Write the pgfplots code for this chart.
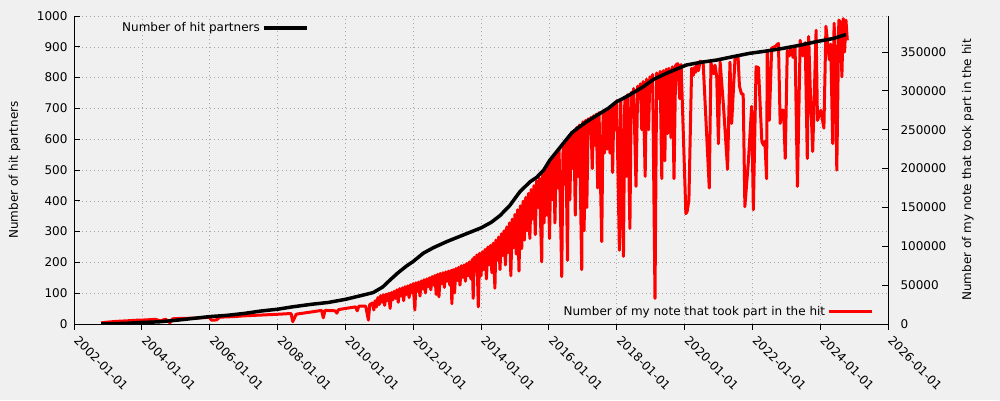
\documentclass[border=0pt]{standalone}
\usepackage{fontspec}
\setmainfont{DejaVu Sans}
\usepackage{pgfplots}
\pgfplotsset{compat=1.18}
\definecolor{bg}{HTML}{F0F0F0}
\definecolor{gridc}{HTML}{A8A8A8}

\pgfplotsset{
  base/.style={
    scale only axis, width=814pt, height=308pt,
    at={(74pt,76pt)}, anchor=south west,
    xmin=2002, xmax=2026,
    /pgf/number format/assume math mode=true,
    /pgf/number format/1000 sep={},
    axis line style={line width=0.9pt},
    major tick length=6pt, minor tick length=3pt,
    tick style={black, line width=0.8pt},
  },
  lgd/.style={
    legend style={draw=none, fill=none, inner sep=0pt, font=\fontsize{12}{14}\selectfont},
    legend plot pos=right,
    legend image code/.code={\path (0pt,0pt) -- (43pt,0pt);\draw[##1] (7pt,0pt) -- (43pt,0pt);},
  },
}

\begin{document}
\begin{tikzpicture}[font=\fontsize{12}{14}\selectfont]
\fill[bg] (0,0) rectangle (1000pt,400pt);

% left axis, dates and grid
\begin{axis}[base,
    axis x line*=bottom, axis y line*=left,
    ymin=0, ymax=1000, ytick={0,100,...,1000},
    xtick={2002,2004,...,2026},
    xticklabels={2002-01-01,2004-01-01,2006-01-01,2008-01-01,2010-01-01,
      2012-01-01,2014-01-01,2016-01-01,2018-01-01,2020-01-01,2022-01-01,
      2024-01-01,2026-01-01},
    minor x tick num=11,
    xtick align=outside, ytick align=inside,
    grid=major,
    major grid style={gridc, line width=0.6pt, dash pattern=on 1pt off 3pt},
    xticklabel style={yshift=-6pt, rotate=-45, anchor=west},
    yticklabel style={xshift=-3pt},
    ylabel={Number of hit partners},
    ylabel style={at={(axis description cs:-0.073,0.5)}, anchor=center},
  ]
\end{axis}

% right axis: notes
\begin{axis}[base, lgd,
    axis x line=none, axis y line*=right,
    ymin=0, ymax=396300, ytick={0,50000,...,350000},
    ytick align=inside,
    scaled y ticks=false,
    yticklabel style={xshift=9pt, /pgf/number format/fixed},
    ylabel={Number of my note that took part in the hit},
    ylabel style={at={(axis description cs:1.098,0.5)}, anchor=center, rotate=0},
    legend style={at={(0.982,0.039)}, anchor=east},
  ]
\addplot[red, line width=3pt, line join=round] coordinates {
(2002.80,1500)(2003.00,2500)(2003.30,3500)(2003.60,4200)(2003.90,5000)
(2004.10,5200)(2004.40,6000)(2004.55,4000)(2004.70,6200)(2004.83,1500)
(2004.90,6600)(2005.00,7000)(2005.50,7500)(2006.00,8600)(2006.05,5000)
(2006.20,5200)(2006.30,8800)(2006.70,9500)(2007.00,10500)(2007.50,11500)
(2008.00,12500)(2008.40,13500)(2008.45,3000)(2008.55,12500)(2008.60,13000)
(2009.00,15500)(2009.30,17500)(2009.35,8000)(2009.40,17500)(2009.70,17000)
(2009.75,14000)(2009.80,18500)(2010.00,20000)(2010.30,22000)(2010.35,17000)
(2010.40,23000)(2010.60,23000)(2010.68,5000)(2010.72,25000)
(2010.80,27000)(2010.84,18000)(2010.88,30000)(2010.92,22000)(2010.96,34000)
(2011.00,25000)(2011.04,36500)(2011.08,28000)(2011.12,37500)(2011.16,24000)
(2011.20,38500)(2011.24,30000)(2011.28,39500)(2011.32,20000)(2011.36,40500)
(2011.40,31000)(2011.44,42000)(2011.48,33000)(2011.52,44000)(2011.56,28000)
(2011.60,45500)(2011.64,36000)(2011.68,46500)(2011.72,30000)(2011.76,48000)
(2011.80,38000)(2011.84,49000)(2011.88,34000)(2011.92,50500)(2011.96,40000)
(2012.00,52000)(2012.05,18000)(2012.08,53000)(2012.12,42000)(2012.16,54000)
(2012.20,36000)(2012.24,55500)(2012.28,45000)(2012.32,57000)(2012.36,40000)
(2012.40,58000)(2012.44,48000)(2012.48,59500)(2012.52,44000)(2012.56,61000)
(2012.60,50000)(2012.64,62500)(2012.68,38000)(2012.72,64000)(2012.76,35000)
(2012.80,65000)(2012.84,52000)(2012.88,66000)(2012.92,47000)(2012.96,67000)
(2013.00,55000)(2013.04,68000)(2013.08,50000)(2013.12,69000)(2013.14,26000)
(2013.18,70000)(2013.22,40000)(2013.26,71500)(2013.30,56000)(2013.34,73000)
(2013.38,50000)(2013.42,75000)(2013.46,60000)(2013.50,76000)(2013.54,55000)
(2013.58,78000)(2013.62,62000)(2013.66,80000)(2013.70,58000)(2013.74,83000)
(2013.77,33000)(2013.80,86000)(2013.84,68000)(2013.88,89000)(2013.92,22000)
(2013.96,91000)(2014.00,62000)(2014.04,93000)(2014.08,70000)(2014.12,96000)
(2014.16,58000)(2014.20,99000)(2014.24,76000)(2014.28,101000)(2014.32,66000)
(2014.36,104000)(2014.41,46000)(2014.44,108000)(2014.48,82000)(2014.52,112000)
(2014.56,70000)(2014.60,116000)(2014.64,88000)(2014.68,120000)(2014.72,76000)
(2014.76,125000)(2014.80,92000)(2014.84,130000)(2014.88,62000)(2014.92,135000)
(2014.96,98000)(2015.00,141000)(2015.04,90000)(2015.08,147000)(2015.12,68000)
(2015.16,152000)(2015.20,97000)(2015.24,158000)(2015.28,108000)(2015.32,163000)
(2015.36,120000)(2015.40,168000)(2015.44,110000)(2015.48,173000)(2015.52,135000)
(2015.56,178000)(2015.60,115000)(2015.64,184000)(2015.68,150000)(2015.72,188000)
(2015.79,80000)(2015.82,193000)(2015.86,130000)(2015.90,198000)(2015.94,140000)
(2015.98,205000)(2016.02,110000)(2016.06,210000)(2016.10,160000)(2016.14,215000)
(2016.18,130000)(2016.22,220000)(2016.26,175000)(2016.30,225000)(2016.34,150000)
(2016.38,61000)(2016.42,231000)(2016.46,180000)(2016.50,236000)(2016.55,82000)
(2016.58,240000)(2016.62,160000)(2016.66,245000)(2016.70,200000)(2016.74,249000)
(2016.78,140000)(2016.82,253000)(2016.86,190000)(2016.90,256000)(2016.97,70000)
(2017.00,260000)(2017.04,120000)(2017.08,262000)(2017.12,150000)(2017.16,264000)
(2017.20,245000)(2017.24,266000)(2017.28,200000)(2017.32,268000)(2017.36,230000)
(2017.40,270000)(2017.44,175000)(2017.48,272000)(2017.56,106000)(2017.60,274000)
(2017.64,220000)(2017.68,276000)(2017.72,225000)(2017.76,278000)(2017.80,220000)
(2017.84,281000)(2017.88,195000)(2017.92,284000)(2017.96,250000)(2018.00,287000)
(2018.08,95000)(2018.12,289000)(2018.20,87000)(2018.24,292000)(2018.28,190000)
(2018.32,295000)(2018.39,123000)(2018.43,298000)(2018.47,280000)(2018.50,303000)
(2018.57,177000)(2018.62,306000)(2018.66,290000)(2018.70,309000)(2018.74,250000)
(2018.78,312000)(2018.84,190000)(2018.88,315000)(2018.94,250000)(2018.98,318000)
(2019.02,300000)(2019.06,321000)(2019.13,33000)(2019.18,323000)(2019.24,290000)
(2019.28,325000)(2019.33,187000)(2019.37,326000)(2019.42,210000)(2019.46,328000)
(2019.50,245000)(2019.54,329000)(2019.60,240000)(2019.64,331000)(2019.69,187000)
(2019.74,333000)(2019.80,335000)(2019.86,290000)(2019.90,334000)
(2020.04,142000)(2020.08,145000)(2020.13,160000)(2020.21,329000)(2020.26,320000)
(2020.29,330000)(2020.33,324000)(2020.37,336000)(2020.41,326000)(2020.46,338000)
(2020.55,336000)(2020.73,175000)(2020.78,336000)(2020.86,322000)(2020.90,333000)
(2020.95,318000)(2021.00,232000)(2021.05,337000)(2021.15,280000)(2021.27,199000)
(2021.34,337000)(2021.39,258000)(2021.49,342000)(2021.58,343000)(2021.62,306000)
(2021.68,296000)(2021.73,296000)(2021.78,151000)(2021.88,207000)(2021.98,280000)
(2022.03,147000)(2022.11,331000)(2022.18,330000)(2022.28,235000)(2022.33,230000)
(2022.37,235000)(2022.42,187000)(2022.44,352000)(2022.50,262000)(2022.57,355000)
(2022.67,357000)(2022.77,361000)(2022.82,258000)(2022.87,275000)(2022.92,275000)
(2022.97,213000)(2023.03,352000)(2023.09,345000)(2023.13,357000)(2023.20,343000)
(2023.26,357000)(2023.33,177000)(2023.41,365000)(2023.49,345000)(2023.56,362000)
(2023.62,213000)(2023.66,370000)(2023.71,300000)(2023.78,222000)(2023.88,378000)
(2023.92,262000)(2024.02,275000)(2024.11,252000)(2024.17,383000)(2024.27,340000)
(2024.31,360000)(2024.37,232000)(2024.41,387000)(2024.45,345000)(2024.49,198000)
(2024.55,391000)(2024.60,388000)(2024.64,318000)(2024.68,393000)(2024.72,350000)
(2024.76,391000)(2024.80,365000)
};
\addlegendentry{Number of my note that took part in the hit}
\end{axis}

% left axis: partners, drawn on top
\begin{axis}[base, lgd,
    axis lines=none, xtick=\empty, ytick=\empty,
    ymin=0, ymax=1000,
    legend style={at={(0.0565,0.961)}, anchor=west},
  ]
\addplot[black, line width=3.5pt, line join=round] coordinates {
(2002.80,0)(2003.50,2)(2004.00,5)(2004.50,7)(2005.00,12)(2005.50,18)
(2006.00,24)(2006.50,28)(2007.00,34)(2007.50,42)(2008.00,48)(2008.46,56)
(2009.00,64)(2009.50,70)(2010.00,80)(2010.53,94)(2010.82,102)(2011.10,120)
(2011.32,143)(2011.55,166)(2011.80,188)(2012.00,203)(2012.30,230)(2012.60,248)
(2013.00,268)(2013.50,290)(2014.00,312)(2014.30,330)(2014.56,352)(2014.85,385)
(2015.15,430)(2015.45,462)(2015.64,476)(2015.85,500)(2016.03,532)(2016.43,587)
(2016.68,621)(2016.90,640)(2017.12,657)(2017.51,684)(2017.75,700)(2018.00,722)
(2018.29,738)(2018.78,770)(2019.10,795)(2019.47,814)(2020.06,841)(2020.50,850)
(2020.95,857)(2021.43,868)(2021.93,879)(2022.40,886)(2022.91,895)(2023.40,905)
(2023.90,917)(2024.39,927)(2024.76,940)
};
\addlegendentry{Number of hit partners}
\end{axis}

\pgfresetboundingbox
\path[use as bounding box] (0,0) rectangle (1000pt,400pt);
\end{tikzpicture}
\end{document}
